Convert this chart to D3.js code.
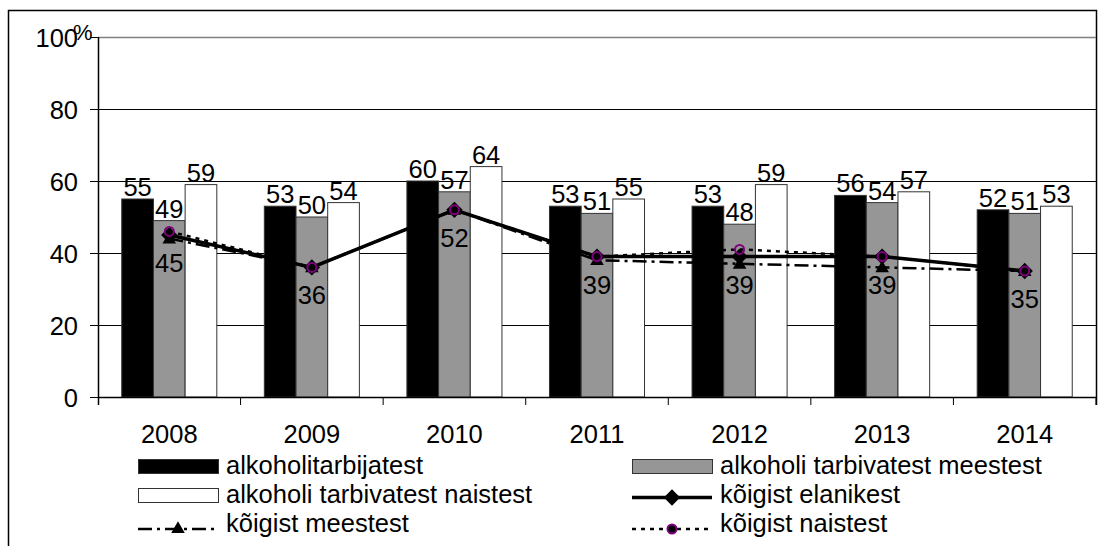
<!DOCTYPE html>
<html>
<head>
<meta charset="utf-8">
<script src="https://cdn.jsdelivr.net/npm/d3@7"></script>
<style>
  body { margin: 0; background: #fff; }
  svg text { font-family: "Liberation Sans", Arial, sans-serif; fill: #000; }
</style>
</head>
<body>
<div id="visual"></div>
<script>
// chart data
const years = ["2008", "2009", "2010", "2011", "2012", "2013", "2014"];
const barSeries = ["alkoholitarbijatest", "alkoholi tarbivatest meestest", "alkoholi tarbivatest naistest"];
const drinkersAll = [55, 53, 60, 53, 53, 56, 52];
const drinkersMen = [49, 50, 57, 51, 48, 54, 51];
const drinkersWomen = [59, 54, 64, 55, 59, 57, 53];
const allPeople = [45, 36, 52, 39, 39, 39, 35];
const allMen = [44, 36, 52, 38, 37, 36, 35];
const allWomen = [46, 36, 52, 39, 41, 39, 35];
const yTicks = [0, 20, 40, 60, 80, 100];

const W = 1107, H = 546;
const margin = { top: 37, right: 11, bottom: 149, left: 98 };
const fs = 25.5;

const svg = d3.select("#visual").append("svg")
    .attr("width", W)
    .attr("height", H);

// outer chart border
svg.append("path")
    .attr("d", "M8.5," + H + "V10.5H1096.5V405")
    .attr("fill", "none")
    .attr("stroke", "#000")
    .attr("stroke-width", 1.5);

const x = d3.scaleBand()
    .domain(years)
    .range([margin.left, W - margin.right])
    .paddingInner(0)
    .paddingOuter(0);

const xs = d3.scaleBand()
    .domain(barSeries)
    .range([0, x.bandwidth()])
    .paddingInner(0)
    .paddingOuter(0.75);

const y = d3.scaleLinear()
    .domain([0, 100])
    .range([H - margin.bottom, margin.top]);

// gridlines
svg.append("g")
    .selectAll("line")
    .data(yTicks.filter(d => d > 0))
    .enter()
    .append("line")
    .attr("x1", margin.left)
    .attr("x2", W - margin.right)
    .attr("y1", d => Math.round(y(d)) + 0.5)
    .attr("y2", d => Math.round(y(d)) + 0.5)
    .attr("stroke", d => d === 100 ? "#808080" : "#000")
    .attr("stroke-width", d => d === 100 ? 1.5 : 1);

// bars
const barData = years.map((yr, i) => [
    { year: yr, key: barSeries[0], value: drinkersAll[i], fill: "#000" },
    { year: yr, key: barSeries[1], value: drinkersMen[i], fill: "#969696" },
    { year: yr, key: barSeries[2], value: drinkersWomen[i], fill: "#fff" }
]).flat();

svg.append("g")
    .selectAll("rect")
    .data(barData)
    .enter()
    .append("rect")
    .attr("x", d => x(d.year) + xs(d.key))
    .attr("y", d => y(d.value))
    .attr("width", xs.bandwidth())
    .attr("height", d => y(0) - y(d.value))
    .attr("fill", d => d.fill)
    .attr("stroke", "#333")
    .attr("stroke-width", 1);

// bar labels
svg.append("g")
    .selectAll("text")
    .data(barData)
    .enter()
    .append("text")
    .attr("x", d => x(d.year) + xs(d.key) + xs.bandwidth() / 2)
    .attr("y", d => y(d.value) - 3)
    .attr("text-anchor", "middle")
    .style("font-size", fs + "px")
    .text(d => d.value);

// y axis
const yAxis = svg.append("g")
    .attr("transform", "translate(" + margin.left + ",0)")
    .call(d3.axisLeft(y).tickValues(yTicks).tickSize(8).tickPadding(12));
yAxis.select(".domain").attr("d", "M0.5," + (y(0) + 8) + "V" + y(100)).attr("stroke", "#000").attr("stroke-width", 1.5);
yAxis.selectAll(".tick line").attr("stroke", "#000");
yAxis.selectAll(".tick text").style("font-size", fs + "px").attr("dy", "0.36em");
svg.append("text")
    .attr("x", 73)
    .attr("y", 40)
    .style("font-size", "22px")
    .text("%");

// x axis
const xAxis = svg.append("g")
    .attr("transform", "translate(0," + y(0) + ")")
    .call(d3.axisBottom(x).tickSize(0).tickPadding(35));
xAxis.select(".domain").attr("stroke", "#000").attr("stroke-width", 1.5);
xAxis.selectAll(".tick text").style("font-size", fs + "px").attr("dy", "0.45em");
svg.append("g")
    .selectAll("line")
    .data(years.slice(1).concat(["end"]))
    .enter()
    .append("line")
    .attr("x1", d => d === "end" ? W - margin.right : x(d))
    .attr("x2", d => d === "end" ? W - margin.right : x(d))
    .attr("y1", y(0))
    .attr("y2", y(0) + 8)
    .attr("stroke", "#000");

// lines
const cx = i => x(years[i]) + x.bandwidth() / 2;
const line = d3.line().x((d, i) => cx(i)).y(d => y(d));

svg.append("path")
    .datum(allPeople)
    .attr("d", line)
    .attr("fill", "none")
    .attr("stroke", "#000")
    .attr("stroke-width", 3.5);

svg.append("path")
    .datum(allMen)
    .attr("d", line)
    .attr("fill", "none")
    .attr("stroke", "#000")
    .attr("stroke-width", 2.5)
    .attr("stroke-dasharray", "14,5,3,5");

svg.append("path")
    .datum(allWomen)
    .attr("d", line)
    .attr("fill", "none")
    .attr("stroke", "#000")
    .attr("stroke-width", 2.5)
    .attr("stroke-dasharray", "4,5");

const diamond = d3.symbol().type(d3.symbolDiamond2).size(170);
const triangle = d3.symbol().type(d3.symbolTriangle).size(80);

svg.append("g")
    .selectAll("path")
    .data(allPeople)
    .enter()
    .append("path")
    .attr("transform", (d, i) => "translate(" + cx(i) + "," + y(d) + ")")
    .attr("d", diamond)
    .attr("fill", "#000");

svg.append("g")
    .selectAll("path")
    .data(allMen)
    .enter()
    .append("path")
    .attr("transform", (d, i) => "translate(" + cx(i) + "," + (y(d) + 1) + ")")
    .attr("d", triangle)
    .attr("fill", "#000");

svg.append("g")
    .selectAll("circle")
    .data(allWomen)
    .enter()
    .append("circle")
    .attr("cx", (d, i) => cx(i))
    .attr("cy", d => y(d))
    .attr("r", 4.5)
    .attr("fill", "none")
    .attr("stroke", "#800080")
    .attr("stroke-width", 2);

// labels for all people
svg.append("g")
    .selectAll("text")
    .data(allPeople)
    .enter()
    .append("text")
    .attr("x", (d, i) => cx(i))
    .attr("y", d => y(d) + 37)
    .attr("text-anchor", "middle")
    .style("font-size", fs + "px")
    .text(d => d);

// legend
const legendItems = [
    { name: barSeries[0], col: 0, row: 0, type: "bar", fill: "#000" },
    { name: barSeries[1], col: 1, row: 0, type: "bar", fill: "#969696" },
    { name: barSeries[2], col: 0, row: 1, type: "bar", fill: "#fff" },
    { name: "kõigist elanikest", col: 1, row: 1, type: "total" },
    { name: "kõigist meestest", col: 0, row: 2, type: "men" },
    { name: "kõigist naistest", col: 1, row: 2, type: "women" }
];
const colX = [138, 632];
const rowBase = [474, 503, 532];

const lg = svg.append("g")
    .selectAll("g")
    .data(legendItems)
    .enter()
    .append("g")
    .attr("transform", d => "translate(" + colX[d.col] + "," + rowBase[d.row] + ")");

lg.filter(d => d.type === "bar")
    .append("rect")
    .attr("x", 0.5)
    .attr("y", -14.5)
    .attr("width", 80)
    .attr("height", 14)
    .attr("fill", d => d.fill)
    .attr("stroke", "#333");

lg.filter(d => d.type !== "bar")
    .append("line")
    .attr("x1", 0)
    .attr("x2", 80)
    .attr("y1", d => d.type === "total" ? -5.5 : -3)
    .attr("y2", d => d.type === "total" ? -5.5 : -3)
    .attr("stroke", "#000")
    .attr("stroke-width", d => d.type === "total" ? 3.5 : 2.5)
    .attr("stroke-dasharray", d => d.type === "men" ? "14,5,3,5" : d.type === "women" ? "4,5" : null);

lg.filter(d => d.type === "total")
    .append("path")
    .attr("transform", "translate(40,-5.5)")
    .attr("d", diamond);

lg.filter(d => d.type === "men")
    .append("path")
    .attr("transform", "translate(40,-3)")
    .attr("d", triangle);

lg.filter(d => d.type === "women")
    .append("circle")
    .attr("cx", 40)
    .attr("cy", -3)
    .attr("r", 4.5)
    .attr("fill", "#000")
    .attr("stroke", "#800080")
    .attr("stroke-width", 2);

lg.append("text")
    .attr("x", 88)
    .attr("y", 0)
    .style("font-size", fs + "px")
    .text(d => d.name);
</script>
</body>
</html>
